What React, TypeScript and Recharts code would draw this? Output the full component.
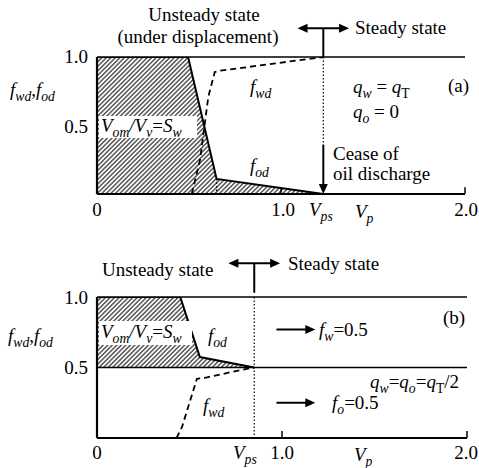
import { ComposedChart, Area, Line, XAxis, YAxis, ReferenceLine } from "recharts";

const FONT = "Liberation Serif";
const INK = "#000";

// panel (a): q_w = q_T
const vpsA = 1.23;
const fodAX = [0, 0.495, 0.65, 1.23];
const fodAY = [1, 1, 0.11, 0];
const fwdAX = [0.515, 0.56, 0.605, 0.64, 0.67, 1.23];
const fwdAY = [0, 0.25, 0.71, 0.89, 0.9, 1.0];

// panel (b): q_w = q_o = q_T/2
const vpsB = 0.85;
const fwB = 0.5;
const fodBX = [0, 0.45, 0.556, 0.85];
const fodBY = [1, 1, 0.574, 0.5];
const fwdBX = [0.43, 0.46, 0.54, 0.595, 0.77, 0.85];
const fwdBY = [0, 0.08, 0.42, 0.43, 0.48, 0.5];

const xTicks = [1, 2];

const fodA = fodAX.map((x, i) => ({ x, y: fodAY[i] }));
const fwdA = fwdAX.map((x, i) => ({ x, y: fwdAY[i] }));
const fodB = fodBX.map((x, i) => ({ x, y: fodBY[i], range: [fwB, fodBY[i]] }));
const fwdB = fwdBX.map((x, i) => ({ x, y: fwdBY[i] }));

const makeArrow = (both: boolean) => (p: any) => {
  const { x1, y1, x2, y2 } = p;
  const dx = x2 - x1;
  const dy = y2 - y1;
  const len = Math.hypot(dx, dy) || 1;
  const ux = dx / len;
  const uy = dy / len;
  const head = (tx: number, ty: number, ax: number, ay: number) => {
    const bx = tx - ax * 10;
    const by = ty - ay * 10;
    return `${tx},${ty} ${bx - ay * 4.5},${by + ax * 4.5} ${bx + ay * 4.5},${by - ax * 4.5}`;
  };
  return (
    <g>
      <line
        x1={both ? x1 + ux * 6 : x1}
        y1={both ? y1 + uy * 6 : y1}
        x2={x2 - ux * 6}
        y2={y2 - uy * 6}
        stroke={INK}
        strokeWidth={2}
      />
      <polygon points={head(x2, y2, ux, uy)} fill={INK} />
      {both && <polygon points={head(x1, y1, -ux, -uy)} fill={INK} />}
    </g>
  );
};
const arrow = makeArrow(false);
const arrow2 = makeArrow(true);

type Part = [string, string?];

// 's' = subscript, 'i' = italic
function Rich({ x, y, parts, anchor = "start", size = 19 }: { x: number; y: number; parts: Part[]; anchor?: string; size?: number }) {
  let shift = 0;
  return (
    <text x={x} y={y} textAnchor={anchor as any} fontFamily={FONT} fontSize={size} fill={INK}>
      {parts.map(([t, f = ""], i) => {
        const target = f.includes("s") ? 5 : 0;
        const dy = target - shift;
        shift = target;
        return (
          <tspan
            key={i}
            dy={dy}
            fontFamily={FONT}
            fontSize={f.includes("s") ? size * 0.72 : size}
            fontStyle={f.includes("i") ? "italic" : "normal"}
          >
            {t}
          </tspan>
        );
      })}
    </text>
  );
}

function Hatch({ id }: { id: string }) {
  return (
    <defs>
      <pattern id={id} patternUnits="userSpaceOnUse" width={3.2} height={3.2} patternTransform="rotate(45)">
        <line x1={0.8} y1={0} x2={0.8} y2={3.2} stroke={INK} strokeWidth={1} />
      </pattern>
    </defs>
  );
}

function Axes() {
  return (
    <>
      <ReferenceLine y={1} stroke={INK} strokeWidth={1.3} ifOverflow="visible" />
      <ReferenceLine y={0} stroke={INK} strokeWidth={2} ifOverflow="visible" />
      <ReferenceLine x={0} stroke={INK} strokeWidth={2.2} ifOverflow="visible" />
      {xTicks.map((t) => (
        <ReferenceLine key={t} segment={[{ x: t, y: 0 }, { x: t, y: 0.05 }]} stroke={INK} strokeWidth={1.5} ifOverflow="visible" />
      ))}
    </>
  );
}

function PanelA() {
  return (
    <ComposedChart width={479} height={230} margin={{ top: 57, right: 14, bottom: 36, left: 97 }}>
      <Hatch id="hatchA" />
      <XAxis type="number" dataKey="x" domain={[0, 2]} hide allowDataOverflow />
      <YAxis type="number" domain={[0, 1]} hide allowDataOverflow />
      <Area data={fodA} dataKey="y" type="linear" stroke="none" fill="url(#hatchA)" fillOpacity={1} baseValue={0} isAnimationActive={false} />
      {Axes()}
      <ReferenceLine segment={[{ x: 0.65, y: 0.11 }, { x: 0.65, y: 0 }]} stroke={INK} strokeWidth={1.3} strokeDasharray="1.5 2" />
      <ReferenceLine segment={[{ x: vpsA, y: 1 }, { x: vpsA, y: 0.36 }]} stroke={INK} strokeWidth={1.2} strokeDasharray="1.5 2" />
      <ReferenceLine segment={[{ x: vpsA, y: 0.36 }, { x: vpsA, y: 0 }]} shape={arrow} ifOverflow="visible" />
      <ReferenceLine segment={[{ x: vpsA, y: 1.21 }, { x: vpsA, y: 1 }]} stroke={INK} strokeWidth={2} ifOverflow="visible" />
      <ReferenceLine segment={[{ x: 1.09, y: 1.21 }, { x: 1.37, y: 1.21 }]} shape={arrow2} ifOverflow="visible" />
      <Line data={fodA} dataKey="y" type="linear" stroke={INK} strokeWidth={2} dot={false} isAnimationActive={false} />
      <Line data={fwdA} dataKey="y" type="linear" stroke={INK} strokeWidth={1.8} strokeDasharray="6 4" dot={false} isAnimationActive={false} />
    </ComposedChart>
  );
}

function PanelB() {
  return (
    <ComposedChart width={479} height={238} margin={{ top: 67, right: 12, bottom: 30, left: 97 }}>
      <Hatch id="hatchB" />
      <XAxis type="number" dataKey="x" domain={[0, 2]} hide allowDataOverflow />
      <YAxis type="number" domain={[0, 1]} hide allowDataOverflow />
      <Area data={fodB} dataKey="range" type="linear" stroke="none" fill="url(#hatchB)" fillOpacity={1} isAnimationActive={false} />
      {Axes()}
      <ReferenceLine y={fwB} stroke={INK} strokeWidth={1.6} />
      <ReferenceLine segment={[{ x: vpsB, y: 1 }, { x: vpsB, y: 0 }]} stroke={INK} strokeWidth={1.2} strokeDasharray="1.5 2" />
      <ReferenceLine segment={[{ x: vpsB, y: 1.24 }, { x: vpsB, y: 1.03 }]} stroke={INK} strokeWidth={2} ifOverflow="visible" />
      <ReferenceLine segment={[{ x: 0.71, y: 1.24 }, { x: 0.99, y: 1.24 }]} shape={arrow2} ifOverflow="visible" />
      <ReferenceLine segment={[{ x: 0.97, y: 0.77 }, { x: 1.18, y: 0.77 }]} shape={arrow} />
      <ReferenceLine segment={[{ x: 0.97, y: 0.25 }, { x: 1.18, y: 0.25 }]} shape={arrow} />
      <Line data={fodB} dataKey="y" type="linear" stroke={INK} strokeWidth={2} dot={false} isAnimationActive={false} />
      <Line data={fwdB} dataKey="y" type="linear" stroke={INK} strokeWidth={1.8} strokeDasharray="6 4" dot={false} isAnimationActive={false} />
    </ComposedChart>
  );
}

const fLabel: Part[] = [["f", "i"], ["wd", "si"], [",", ""], ["f", "i"], ["od", "si"]];
const sLabel: Part[] = [["V", "i"], ["om", "si"], ["/V", "i"], ["v", "si"], ["=", ""], ["S", "i"], ["w", "si"]];

function Labels() {
  return (
    <svg width={479} height={468} style={{ position: "absolute", left: 0, top: 0, pointerEvents: "none" }}>
      {/* panel (a) */}
      <Rich x={204} y={21} anchor="middle" parts={[["Unsteady state"]]} />
      <Rich x={198} y={43} anchor="middle" parts={[["(under displacement)"]]} />
      <Rich x={355} y={34} parts={[["Steady state"]]} />
      <Rich x={88} y={63} anchor="end" parts={[["1.0"]]} />
      <Rich x={88} y={133} anchor="end" parts={[["0.5"]]} />
      <Rich x={10} y={96} parts={fLabel} />
      <rect x={99} y={116} width={98} height={22} fill="#fff" />
      <Rich x={101} y={132} parts={sLabel} />
      <Rich x={250} y={93} parts={[["f", "i"], ["wd", "si"]]} />
      <Rich x={250} y={172} parts={[["f", "i"], ["od", "si"]]} />
      <Rich x={353} y={93} parts={[["q", "i"], ["w", "si"], [" =  "], ["q", "i"], ["T", "s"]]} />
      <Rich x={448} y={92} parts={[["(a)"]]} />
      <Rich x={353} y={118} parts={[["q", "i"], ["o", "si"], [" = 0"]]} />
      <Rich x={333} y={160} parts={[["Cease of"]]} />
      <Rich x={333} y={180} parts={[["oil discharge"]]} />
      <Rich x={97} y={216} anchor="middle" parts={[["0"]]} />
      <Rich x={283} y={216} anchor="middle" parts={[["1.0"]]} />
      <Rich x={309} y={216} parts={[["V", "i"], ["ps", "si"]]} />
      <Rich x={355} y={218} parts={[["V", "i"], ["p", "si"]]} />
      <Rich x={466} y={216} anchor="middle" parts={[["2.0"]]} />

      {/* panel (b) */}
      <Rich x={102} y={276} parts={[["Unsteady state"]]} />
      <Rich x={288} y={270} parts={[["Steady state"]]} />
      <Rich x={88} y={304} anchor="end" parts={[["1.0"]]} />
      <Rich x={88} y={374} anchor="end" parts={[["0.5"]]} />
      <Rich x={8} y={342} parts={fLabel} />
      <rect x={99} y={321} width={93} height={24} fill="#fff" />
      <Rich x={101} y={338} parts={sLabel} />
      <Rich x={208} y={342} parts={[["f", "i"], ["od", "si"]]} />
      <Rich x={203} y={412} parts={[["f", "i"], ["wd", "si"]]} />
      <Rich x={443} y={324} parts={[["(b)"]]} />
      <Rich x={319} y={336} parts={[["f", "i"], ["w", "si"], ["=0.5"]]} />
      <Rich x={370} y={388} parts={[["q", "i"], ["w", "si"], ["="], ["q", "i"], ["o", "si"], ["="], ["q", "i"], ["T", "s"], ["/2"]]} />
      <Rich x={332} y={409} parts={[["f", "i"], ["o", "si"], ["=0.5"]]} />
      <Rich x={97} y={459} anchor="middle" parts={[["0"]]} />
      <Rich x={233} y={459} parts={[["V", "i"], ["ps", "si"]]} />
      <Rich x={282} y={459} anchor="middle" parts={[["1.0"]]} />
      <Rich x={354} y={461} parts={[["V", "i"], ["p", "si"]]} />
      <Rich x={466} y={459} anchor="middle" parts={[["2.0"]]} />
    </svg>
  );
}

export default function App() {
  return (
    <div style={{ position: "absolute", left: 0, top: 0, width: 479, height: 468, background: "#fff" }}>
      <div style={{ position: "absolute", left: 0, top: 0 }}>
        <PanelA />
      </div>
      <div style={{ position: "absolute", left: 0, top: 230 }}>
        <PanelB />
      </div>
      <Labels />
    </div>
  );
}
